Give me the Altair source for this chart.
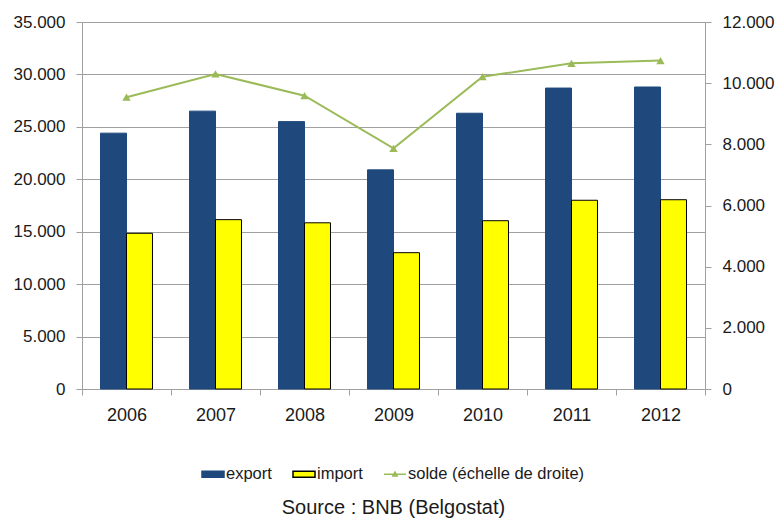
import altair as alt
import pandas as pd

# Belgian trade figures, 2006-2012
years = ["2006", "2007", "2008", "2009", "2010", "2011", "2012"]
export_values = [24400, 26500, 25500, 20900, 26300, 28700, 28800]
import_values = [14850, 16150, 15850, 13000, 16050, 18000, 18050]
balance_values = [9540, 10300, 9590, 7870, 10210, 10650, 10740]

series_names = ["export", "import", "solde (échelle de droite)"]
fill_colors = ["#1F497D", "#FFFF00", "#9BBB59"]
edge_colors = ["#1F497D", "#000000", "#9BBB59"]
# legend glyphs: filled boxes for the bars, a line with a triangle for the balance
legend_shapes = [
    "M-1,-0.27H1V0.27H-1Z",
    "M-1,-0.27H1V0.27H-1Z",
    "M-1,0H1M0,-0.2L0.2,0.15H-0.2Z",
]

FONT = "Liberation Sans"
TEXT = "#1a1a1a"
GRID = "#A0A0A0"

bars_df = pd.DataFrame({
    "year": years * 2,
    "series": [series_names[0]] * len(years) + [series_names[1]] * len(years),
    "value": export_values + import_values,
})
balance_df = pd.DataFrame({
    "year": years,
    "series": [series_names[2]] * len(years),
    "value": balance_values,
})

dot_thousands = "replace(format(datum.value, ','), ',', '.')"

x_enc = alt.X(
    "year:N",
    sort=years,
    scale=alt.Scale(paddingInner=0, paddingOuter=0),
    axis=alt.Axis(
        title=None, labelAngle=0, tickBand="extent", domainColor=GRID,
        tickColor=GRID, tickSize=6, labelPadding=11, labelFontSize=18,
        labelFont=FONT, labelColor=TEXT, grid=False,
    ),
)

legend_def = alt.Legend(
    title=None, orient="none", legendX=119, legendY=440,
    direction="horizontal", columns=3, labelFont=FONT, labelFontSize=16.5,
    labelColor=TEXT, labelLimit=0, symbolSize=484, symbolStrokeWidth=1.5,
    symbolOpacity=1, columnPadding=18, labelOffset=1, padding=0,
)

fill_scale = alt.Scale(domain=series_names, range=fill_colors)
edge_scale = alt.Scale(domain=series_names, range=edge_colors)
shape_scale = alt.Scale(domain=series_names, range=legend_shapes)

left_y = alt.Y(
    "value:Q",
    scale=alt.Scale(domain=[0, 35000], nice=False),
    axis=alt.Axis(
        title=None, orient="left", values=list(range(0, 35001, 5000)),
        labelExpr=dot_thousands, grid=True, gridColor=GRID, gridWidth=1.2,
        domainColor=GRID, tickColor=GRID, tickSize=6, labelPadding=11,
        labelFont=FONT, labelFontSize=17, labelColor=TEXT,
    ),
)

right_y = alt.Y(
    "value:Q",
    scale=alt.Scale(domain=[0, 12000], nice=False),
    axis=alt.Axis(
        title=None, orient="right", values=list(range(0, 12001, 2000)),
        labelExpr=dot_thousands, grid=False, domainColor=GRID,
        tickColor=GRID, tickSize=6, labelPadding=11,
        labelFont=FONT, labelFontSize=17, labelColor=TEXT,
    ),
)

bars = alt.Chart(bars_df).mark_bar(strokeWidth=1).encode(
    x=x_enc,
    xOffset=alt.XOffset(
        "series:N", sort=series_names[:2],
        scale=alt.Scale(paddingInner=0, paddingOuter=0.712),
    ),
    y=left_y,
    color=alt.Color("series:N", scale=fill_scale, legend=legend_def),
    stroke=alt.Stroke("series:N", scale=edge_scale, legend=legend_def),
)

balance_line = alt.Chart(balance_df).mark_line(
    color="#9BBB59", strokeWidth=2
).encode(x=x_enc, y=right_y)

balance_points = alt.Chart(balance_df).mark_point(
    shape="triangle-up", filled=True, size=70, color="#9BBB59", opacity=1
).encode(x=x_enc, y=right_y)

# carries the legend entry for the balance series
balance_key = alt.Chart(balance_df).mark_point(filled=True, opacity=0).encode(
    x=x_enc,
    y=right_y,
    color=alt.Color("series:N", scale=fill_scale, legend=legend_def),
    stroke=alt.Stroke("series:N", scale=edge_scale, legend=legend_def),
    shape=alt.Shape("series:N", scale=shape_scale, legend=legend_def),
)

right_side = alt.layer(balance_line, balance_points, balance_key)

chart = (
    alt.layer(bars, right_side)
    .resolve_scale(y="independent")
    .properties(
        width=623,
        height=367,
        autosize=alt.AutoSizeParams(type="none"),
        padding={"left": 82, "top": 22, "right": 73, "bottom": 131},
        title=alt.TitleParams(
            "Source : BNB (Belgostat)", orient="bottom", anchor="middle",
            font=FONT, fontSize=20, fontWeight="normal", color=TEXT, offset=15,
        ),
    )
    .configure_view(stroke=None)
    .configure(background="white")
)

chart.save("out.html", embed_options={"renderer": "svg", "actions": False})
